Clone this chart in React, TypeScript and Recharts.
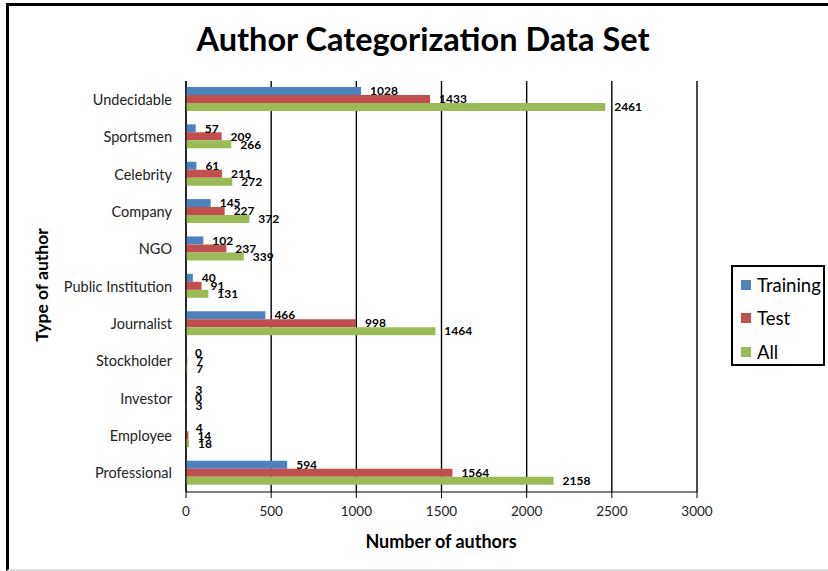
import { BarChart, Bar, XAxis, YAxis, CartesianGrid, LabelList } from 'recharts';

const categories = [
  'Undecidable',
  'Sportsmen',
  'Celebrity',
  'Company',
  'NGO',
  'Public Institution',
  'Journalist',
  'Stockholder',
  'Investor',
  'Employee',
  'Professional',
];
const training = [1028, 57, 61, 145, 102, 40, 466, 0, 3, 4, 594];
const test = [1433, 209, 211, 227, 237, 91, 998, 7, 0, 14, 1564];
const all = [2461, 266, 272, 372, 339, 131, 1464, 7, 3, 18, 2158];
const xTicks = [0, 500, 1000, 1500, 2000, 2500, 3000];

const data = categories.map((name, i) => ({
  name,
  training: training[i],
  test: test[i],
  all: all[i],
}));

const FONT = 'Lato, "Open Sans", sans-serif';

const series = [
  { key: 'training', name: 'Training', color: '#4F81BD' },
  { key: 'test', name: 'Test', color: '#C0504D' },
  { key: 'all', name: 'All', color: '#9BBB59' },
];

function LegendBox() {
  return (
    <div
      style={{
        position: 'absolute',
        left: 731,
        top: 265,
        width: 94,
        height: 101,
        border: '2px solid #000',
        background: '#fff',
        fontFamily: FONT,
        fontSize: 18.5,
        color: '#000',
        paddingTop: 1,
        boxSizing: 'border-box',
      }}
    >
      {series.map((s) => (
        <div key={s.key} style={{ display: 'flex', alignItems: 'center', height: 33.5, paddingLeft: 8 }}>
          <span style={{ width: 10, height: 10, background: s.color, marginRight: 6, display: 'inline-block' }} />
          <span>{s.name}</span>
        </div>
      ))}
    </div>
  );
}

export default function App() {
  return (
    <div style={{ position: 'absolute', left: 0, top: 0, width: 828, height: 571, overflow: 'hidden', background: '#fff' }}>
      <div
        style={{
          position: 'absolute',
          left: 6,
          top: 3,
          width: 900,
          height: 563,
          borderLeft: '3px solid #000',
          borderTop: '3px solid #000',
          borderBottom: '2px solid #ddd',
        }}
      />
      <div
        style={{
          position: 'absolute',
          left: 0,
          width: 846,
          top: 19,
          textAlign: 'center',
          fontFamily: FONT,
          fontWeight: 'bold',
          fontSize: 32.5,
          color: '#000',
          lineHeight: '40px',
        }}
      >
        Author Categorization Data Set
      </div>
      <div style={{ position: 'absolute', left: 0, top: 0 }}>
        <BarChart
          width={828}
          height={571}
          data={data}
          layout="vertical"
          margin={{ top: 81, right: 131, bottom: 49, left: 0 }}
          barCategoryGap={6}
          barGap={0}
        >
          <CartesianGrid horizontal={false} stroke="#000" strokeWidth={1.4} />
          <XAxis
            type="number"
            domain={[0, 3000]}
            ticks={xTicks}
            interval={0}
            height={30}
            tickSize={6}
            tickMargin={8}
            stroke="#000"
            tick={{ fontSize: 13.5, fill: '#222', fontFamily: FONT }}
          />
          <YAxis
            type="category"
            dataKey="name"
            width={186}
            tickLine={false}
            tickSize={0}
            tickMargin={14}
            stroke="#000"
            tick={{ fontSize: 14.5, fill: '#222', fontFamily: FONT }}
          />
          {series.map((s) => (
            <Bar
              key={s.key}
              dataKey={s.key}
              name={s.name}
              fill={s.color}
              minPointSize={0.01}
              isAnimationActive={false}
            >
              <LabelList
                dataKey={s.key}
                position="right"
                offset={9}
                style={{ fontSize: 12, fontWeight: 'bold', fill: '#000', fontFamily: FONT }}
              />
            </Bar>
          ))}
        </BarChart>
      </div>
      <div
        style={{
          position: 'absolute',
          left: 341,
          width: 200,
          top: 530,
          textAlign: 'center',
          fontFamily: FONT,
          fontWeight: 'bold',
          fontSize: 18,
          lineHeight: '22px',
          color: '#000',
        }}
      >
        Number of authors
      </div>
      <div
        style={{
          position: 'absolute',
          left: 42 - 100,
          top: 285 - 11,
          width: 200,
          textAlign: 'center',
          transform: 'rotate(-90deg)',
          fontFamily: FONT,
          fontWeight: 'bold',
          fontSize: 17.5,
          lineHeight: '22px',
          color: '#000',
        }}
      >
        Type of author
      </div>
      <LegendBox />
    </div>
  );
}
